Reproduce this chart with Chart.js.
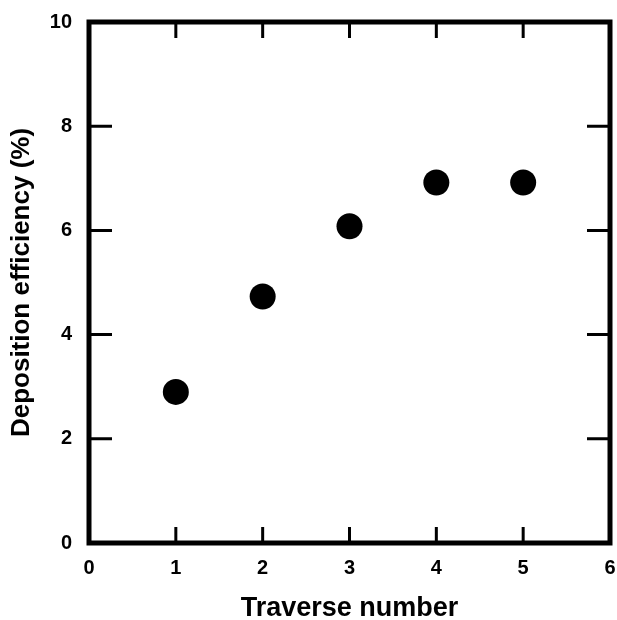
<!DOCTYPE html>
<html>
<head>
<meta charset="utf-8">
<script src="https://cdn.jsdelivr.net/npm/chart.js@4"></script>
<style>
  html, body { margin: 0; padding: 0; background: #fff; overflow: hidden; }
  #wrap { width: 617px; height: 620px; }
  canvas { display: block; }
</style>
</head>
<body>
<div id="wrap"><canvas id="chart" width="617" height="620"></canvas></div>
<script>
// Data
const traverseNumbers = [1, 2, 3, 4, 5];
const efficiencyValues = [2.9, 4.73, 6.08, 6.92, 6.92];
const xTickValues = [0, 1, 2, 3, 4, 5, 6];
const yTickValues = [0, 2, 4, 6, 8, 10];

const points = traverseNumbers.map((x, i) => ({ x: x, y: efficiencyValues[i] }));

// Draws the thick frame and the inward tick marks on all four sides
const framePlugin = {
  id: 'frame',
  afterDraw(chart) {
    const ctx = chart.ctx;
    const area = chart.chartArea;
    const xs = chart.scales.x;
    const ys = chart.scales.y;
    ctx.save();
    ctx.strokeStyle = '#000';
    ctx.lineWidth = 3;
    ctx.beginPath();
    xTickValues.slice(1, -1).forEach(v => {
      const px = xs.getPixelForValue(v);
      ctx.moveTo(px, area.bottom);
      ctx.lineTo(px, area.bottom - 16);
      ctx.moveTo(px, area.top);
      ctx.lineTo(px, area.top + 16);
    });
    yTickValues.slice(1, -1).forEach(v => {
      const py = ys.getPixelForValue(v);
      ctx.moveTo(area.left, py);
      ctx.lineTo(area.left + 23, py);
      ctx.moveTo(area.right, py);
      ctx.lineTo(area.right - 23, py);
    });
    ctx.stroke();
    ctx.lineWidth = 5;
    ctx.strokeRect(area.left, area.top, area.right - area.left, area.bottom - area.top);
    ctx.restore();
  }
};

// keep the plot box where the reference has it: no extra room for overhanging labels
function noOverhang(scale) {
  scale.paddingLeft = 0;
  scale.paddingRight = 0;
  scale.paddingTop = 0;
  scale.paddingBottom = 0;
}

const tickFont = { family: 'Liberation Sans, Arial, sans-serif', size: 20, weight: 'bold' };
const titleFont = { family: 'Liberation Sans, Arial, sans-serif', size: 26, weight: 'bold', lineHeight: 1 };

new Chart(document.getElementById('chart').getContext('2d'), {
  type: 'scatter',
  data: {
    datasets: [{
      data: points,
      backgroundColor: '#000',
      borderWidth: 0,
      pointRadius: 13,
      pointHoverRadius: 13
    }]
  },
  options: {
    responsive: false,
    animation: false,
    plugins: { legend: { display: false }, tooltip: { enabled: false } },
    layout: { autoPadding: false, padding: { top: 22, right: 7, left: 0, bottom: 0 } },
    scales: {
      x: {
        type: 'linear',
        min: 0,
        max: 6,
        afterBuildTicks(scale) { scale.ticks = xTickValues.map(v => ({ value: v })); },
        afterFit(scale) { scale.height = 77; noOverhang(scale); },
        grid: { display: false, drawTicks: false },
        border: { display: false },
        ticks: { color: '#000', font: tickFont, padding: 13, maxRotation: 0 },
        title: { display: true, text: 'Traverse number', color: '#000', font: Object.assign({}, titleFont, { size: 27 }), padding: { top: 0, bottom: -2 } }
      },
      y: {
        type: 'linear',
        min: 0,
        max: 10,
        afterBuildTicks(scale) { scale.ticks = yTickValues.map(v => ({ value: v })); },
        afterFit(scale) { scale.width = 89; noOverhang(scale); },
        grid: { display: false, drawTicks: false },
        border: { display: false },
        ticks: { color: '#000', font: tickFont, padding: 17 },
        title: { display: true, text: 'Deposition efficiency (%)', color: '#000', font: titleFont, padding: { top: 9, bottom: 0 } }
      }
    }
  },
  plugins: [framePlugin]
});
</script>
</body>
</html>
